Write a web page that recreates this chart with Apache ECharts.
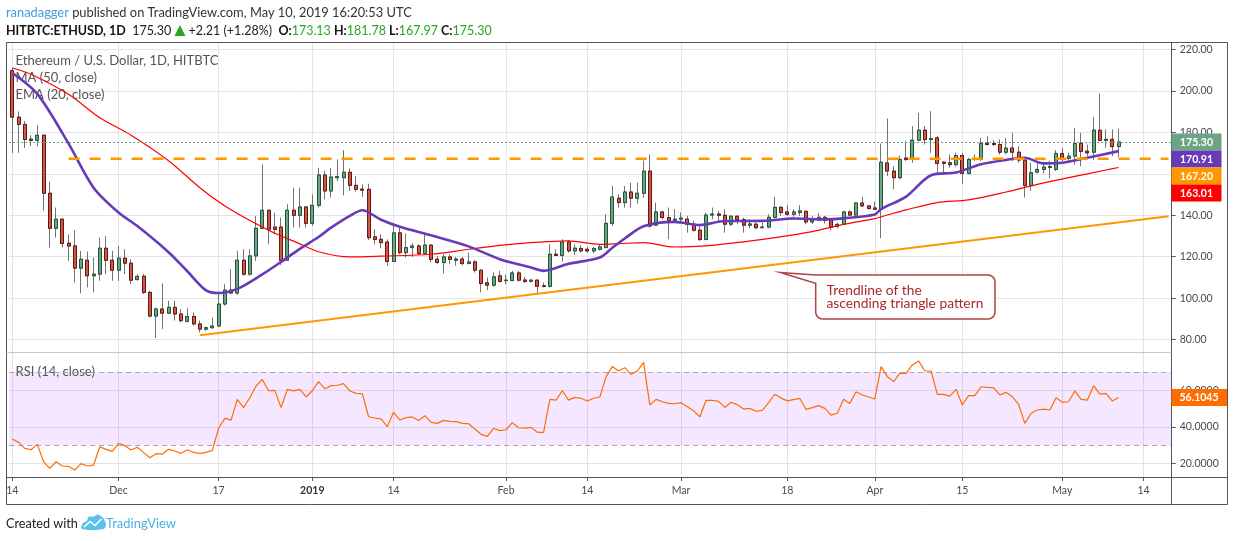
<!DOCTYPE html>
<html><head><meta charset="utf-8">
<script src="https://cdn.jsdelivr.net/npm/echarts@6/dist/echarts.min.js"></script>
<style>html,body{margin:0;padding:0;background:#fff}#c{width:1234px;height:541px}</style>
</head><body><div id="c"></div>
<script>
// ---------------- DATA ----------------
const CATEGORY_COUNT = 186; // Nov 14 2018 .. May 18 2019 (axis extends past last candle)
const tickLabels = {0:'14',17:'Dec',33:'17',48:'2019',61:'14',79:'Feb',92:'14',107:'Mar',124:'18',138:'Apr',152:'15',168:'May',181:'14'};

const opens = [209.7,187.3,183.8,176.7,176.1,178.6,150.6,133.7,138.1,126.5,
125.2,114.5,118.3,110.8,111.6,124.1,118.3,113.5,119.3,116.9,
109.0,110.6,102.8,91.4,94.8,92.8,95.6,92.4,88.8,91.2,
87.6,85.1,85.8,86.6,97.2,103.9,102.5,118.3,111.6,120.4,
133.7,142.4,134.3,134.3,118.3,142.4,140.0,144.0,136.1,144.8,
159.4,151.7,158.1,158.1,160.7,154.4,152.6,152.5,129.6,128.4,
127.1,117.7,131.5,122.0,124.4,125.2,121.5,125.6,118.8,117.2,
119.9,118.3,118.9,116.7,117.5,113.5,107.4,106.3,110.8,108.5,
108.5,112.2,108.8,108.2,108.7,106.0,105.7,121.2,120.6,127.1,
122.8,124.0,123.6,122.8,123.6,124.4,136.1,148.2,146.1,151.2,
148.2,150.6,161.3,135.2,141.6,138.9,137.6,138.1,138.1,135.7,
132.8,128.3,140.1,140.6,140.0,135.7,139.5,137.9,135.2,135.7,
134.0,134.3,139.0,143.8,141.6,140.5,141.3,141.9,136.8,137.7,
139.0,137.7,134.6,135.6,141.6,140.1,145.9,144.5,143.5,142.9,
165.2,161.3,158.1,167.6,166.9,176.2,181.0,176.5,177.3,165.6,
165.3,164.4,168.8,160.2,166.9,166.9,174.8,174.6,174.1,170.4,
172.4,170.4,166.6,154.4,160.8,162.1,163.0,162.1,169.8,167.4,
168.5,174.6,170.9,170.4,181.0,176.1,176.6,173.13];

const highs = [211.0,190.0,185.4,178.6,183.4,178.8,156.2,143.7,138.5,130.8,
132.8,122.8,122.5,119.6,129.2,130.0,122.8,125.2,123.6,118.8,
111.6,111.6,103.6,95.6,107.1,98.8,98.8,94.8,95.2,93.2,
89.2,86.3,90.7,102.8,106.8,114.0,122.8,123.6,123.6,139.7,
164.5,142.6,141.2,138.9,145.3,153.3,153.3,144.2,150.1,162.9,
161.6,162.9,166.9,171.4,162.6,158.9,154.9,155.2,133.2,130.8,
128.4,134.8,134.1,131.2,126.4,126.0,131.6,126.0,120.4,121.2,
121.2,119.9,119.9,122.0,118.3,114.0,110.0,112.4,113.2,111.3,
113.2,113.2,110.3,109.2,109.2,107.6,126.0,123.6,128.4,128.0,
126.0,125.6,124.8,124.8,126.0,140.5,154.1,150.1,154.1,155.7,
155.7,166.4,169.3,146.1,142.1,143.7,142.9,141.3,139.7,137.3,
134.8,141.3,143.7,142.1,142.9,140.1,140.1,138.9,138.1,136.5,
136.5,140.5,148.8,144.5,144.9,142.9,144.9,142.1,139.7,141.0,
139.7,138.5,136.5,142.1,142.4,146.4,148.8,144.9,146.6,174.6,
186.6,163.7,168.8,175.7,183.0,189.4,183.0,190.2,178.1,166.1,
169.3,170.1,170.1,167.7,169.3,177.3,178.1,176.2,176.5,177.3,
179.7,173.3,167.7,165.3,165.3,165.3,166.1,171.4,172.5,170.1,
182.2,179.7,174.1,187.3,198.7,181.4,181.4,181.78];

const lows = [170.0,170.1,172.5,173.3,173.3,142.1,124.4,129.2,124.4,118.0,
107.6,102.3,105.2,102.8,108.4,111.6,108.4,108.4,111.6,106.8,
108.4,102.0,90.8,80.8,85.1,92.3,89.2,88.4,88.4,86.8,
83.5,84.3,85.1,86.1,96.4,102.0,101.6,110.8,110.8,118.0,
133.2,126.0,130.8,116.1,118.0,134.1,134.1,134.1,134.8,143.7,
147.7,148.5,156.5,149.6,151.7,151.4,148.8,128.0,126.0,124.1,
115.6,117.7,121.2,119.6,119.9,120.9,120.9,117.2,116.7,111.9,
116.4,115.6,115.9,116.4,112.4,102.8,103.9,105.5,107.6,106.8,
108.4,108.1,107.6,107.6,102.0,105.2,105.2,120.4,117.7,122.0,
120.7,122.0,122.0,121.7,123.0,124.4,134.8,143.7,143.7,143.7,
145.6,148.5,134.0,134.8,138.0,128.4,136.5,136.5,131.6,132.1,
127.6,127.9,138.1,137.3,131.6,134.8,135.7,131.6,133.7,133.2,
133.7,133.7,138.5,139.7,139.7,139.2,139.7,135.7,135.7,137.3,
136.0,132.8,133.7,135.3,139.7,139.7,144.0,142.9,142.7,129.0,
158.9,152.5,157.3,166.1,165.3,175.7,174.1,170.1,159.7,159.7,
162.9,163.4,154.9,159.7,166.1,166.1,173.6,173.3,169.3,169.3,
166.1,165.3,148.5,151.7,160.2,160.2,157.8,161.3,166.1,165.3,
164.5,163.7,168.5,166.6,175.7,172.5,168.5,167.97];

const closes = [187.3,183.8,176.5,176.1,178.6,150.6,133.7,138.1,126.4,125.2,
114.5,118.8,110.8,111.6,124.1,118.3,113.5,119.3,116.9,108.7,
110.5,102.8,91.4,94.8,92.8,95.6,92.4,89.2,91.2,87.6,
85.1,85.8,86.6,97.2,103.9,102.5,118.3,111.6,120.4,133.7,
142.4,133.2,133.2,118.3,142.4,140.0,144.0,136.1,144.8,159.4,
151.7,158.4,158.6,160.7,154.4,152.5,152.1,129.2,128.3,126.8,
117.7,131.5,122.0,124.4,125.2,121.5,125.6,118.7,117.2,119.9,
118.7,118.9,116.7,117.5,113.5,107.1,106.3,110.3,108.1,108.7,
112.2,108.7,108.0,108.7,105.8,105.7,121.2,120.6,127.1,122.8,
124.1,122.8,122.8,124.0,124.8,136.1,148.8,146.1,151.2,148.2,
150.6,161.3,134.8,141.6,138.9,137.6,138.1,138.6,135.7,132.8,
128.3,140.1,140.6,140.0,135.7,139.5,137.9,135.2,135.8,134.0,
134.3,139.0,143.8,141.3,140.5,141.6,142.1,136.8,137.7,139.0,
137.6,134.3,135.6,141.6,140.1,145.9,144.5,143.2,142.9,165.6,
161.3,158.1,166.9,166.9,176.2,181.0,176.5,177.0,165.0,165.0,
164.4,168.8,160.2,166.9,167.2,174.6,174.1,174.1,170.4,172.4,
170.4,166.6,154.4,160.5,162.1,163.2,163.5,169.8,167.4,168.5,
174.6,170.8,170.1,181.0,176.1,176.6,173.09,175.30];

const ma50 = [[0,211.0],[3,208.0],[9,198.3],[14,187.0],[19,178.6],[25,166.3],[30,153.3],[35,142.6],[41,132.8],[46,126.2],
[49,122.4],[54,119.9],[59,120.3],[67,121.2],[73,123.6],[78,125.5],[83,126.8],[89,127.6],[94,126.0],[97,126.3],
[101,126.8],[106,124.7],[112,125.5],[117,127.2],[122,129.2],[128,132.1],[133,135.6],[138,138.4],[140,140.1],[143,142.6],
[148,146.1],[153,147.4],[159,151.2],[164,154.9],[169,158.1],[175,161.8],[177,163.01]];

const ema20 = [[0,208.6],[4,198.5],[9,174.5],[13,153.3],[17,141.3],[20,134.8],[25,122.2],[28,113.0],[31,103.8],[33,102.5],
[36,104.5],[40,111.5],[43,117.5],[46,123.8],[49,129.5],[51,134.0],[54,139.7],[56,142.4],[59,137.8],[62,134.4],
[67,130.3],[73,125.0],[78,118.8],[83,114.8],[85,113.2],[89,116.6],[94,119.6],[96,124.3],[98,128.8],[101,134.7],
[106,136.8],[110,135.3],[114,137.2],[120,137.3],[125,138.4],[130,138.0],[133,138.5],[138,140.4],[139,143.0],[143,149.0],
[147,159.3],[151,160.6],[155,164.6],[159,166.7],[162,167.7],[165,165.0],[168,165.3],[172,167.7],[177,170.91]];

const rsi = [33.4,31.6,28.3,27.6,30.5,21.0,17.4,21.0,18.7,18.5,
16.5,20.0,18.7,19.2,29.2,27.8,26.7,31.1,29.8,27.4,
28.9,26.0,23.2,25.4,25.2,27.8,26.9,25.6,27.6,26.1,
25.6,26.1,27.2,39.3,44.7,43.8,55.1,50.6,56.0,62.4,
66.0,59.8,60.0,50.6,60.6,59.7,60.6,56.4,59.8,64.8,
60.8,62.6,62.8,63.7,59.7,58.4,58.2,45.6,44.9,44.4,
40.2,48.0,43.8,45.1,45.5,43.6,46.2,42.5,42.0,43.6,
43.1,42.9,42.0,41.8,38.9,36.0,34.9,39.3,38.0,38.5,
42.4,39.6,39.4,39.8,37.1,37.1,55.1,54.7,59.8,54.7,
56.2,55.7,54.2,55.7,56.4,67.5,73.0,70.6,72.4,68.8,
70.6,75.3,52.0,55.1,53.8,52.9,52.7,53.3,51.1,48.9,
45.5,54.6,54.6,54.0,50.7,53.5,52.2,49.8,50.2,48.6,
49.1,53.3,57.9,55.8,54.3,55.0,55.6,49.6,50.6,51.7,
50.2,46.5,47.5,55.1,52.9,59.3,57.5,56.4,55.3,73.0,
67.5,64.8,69.3,69.3,73.9,76.1,70.6,70.6,57.8,57.8,
56.9,60.6,52.0,57.1,57.1,62.0,61.7,61.5,57.5,58.9,
56.6,52.4,42.0,47.5,49.3,49.8,49.3,56.0,53.5,53.8,
59.7,55.1,54.7,62.6,58.0,58.4,54.2,56.1045];

const resistanceLevel = 167.20;
const resistanceFrom = 9;
const trendline = [[30, 82.1], [185, 139.5]];
const rsiUpper = 70, rsiLower = 30;
const rsiGrid = [20, 40, 60];

// ---------------- SETUP ----------------
const categories = [];
(function(){ const d0 = Date.UTC(2018, 10, 14); for (let i = 0; i < CATEGORY_COUNT; i++) { categories.push(new Date(d0 + i * 864e5).toISOString().slice(0, 10)); } })();
const FONT = 'Lato, "Noto Sans", "DejaVu Sans", sans-serif';
const ctx = document.createElement('canvas').getContext('2d');
function measure(t, size, bold) { ctx.font = (bold ? 'bold ' : '') + size + 'px ' + FONT; return ctx.measureText(t).width; }
function fit(segs, target) { let w = 0; segs.forEach(s => { if (!s.tri) w += measure(s.t, 20, s.bold); }); return 20 * target / w; }
const axisFs = 12 * 33 / measure('220.00', 12, false);
const isTick = (idx) => Object.prototype.hasOwnProperty.call(tickLabels, idx);

const last = closes.length - 1;
const wickData = opens.map((o, i) => [o, closes[i], lows[i], highs[i]]);
const bodyData = opens.map((o, i) => [o, closes[i], Math.min(o, closes[i]), Math.max(o, closes[i])]);
const UP = '#6ba583', DOWN = '#d75442';

const chart = echarts.init(document.getElementById('c'), null, {renderer: 'canvas', width: 1234, height: 541});
const option = {
  animation: false,
  backgroundColor: '#ffffff',
  grid: [
    {left: 12.3, top: 42.5, width: 1156.25, height: 434.5},
    {left: 9.2, top: 49.3, width: 1162.5, height: 290.4},
    {left: 9.2, top: 353.8, width: 1162.5, height: 128.1}
  ],
  xAxis: [
    {gridIndex: 0, type: 'category', data: categories, boundaryGap: false,
      axisLine: {show: false},
      axisTick: {show: true, interval: isTick, length: 4, lineStyle: {color: '#555'}},
      axisLabel: {interval: isTick, margin: 8, color: '#4a4a4a', fontSize: axisFs, fontFamily: FONT,
        formatter: (v, i) => i === 48 ? '{b|2019}' : (tickLabels[i] || ''),
        rich: {b: {fontWeight: 'bold', color: '#333', fontSize: axisFs, fontFamily: FONT}}},
      splitLine: {show: true, interval: isTick, lineStyle: {color: '#e4e4e4'}}},
    {gridIndex: 1, type: 'category', data: categories, boundaryGap: true, show: false},
    {gridIndex: 2, type: 'category', data: categories, boundaryGap: true, show: false}
  ],
  yAxis: [
    {gridIndex: 0, type: 'value', show: false},
    {gridIndex: 1, type: 'value', position: 'right', min: 80, max: 220, interval: 20,
      axisLine: {show: false}, axisTick: {show: true, length: 4, lineStyle: {color: '#555'}},
      axisLabel: {formatter: v => v.toFixed(2), color: '#4a4a4a', fontSize: axisFs, fontFamily: FONT, margin: 8},
      splitLine: {lineStyle: {color: '#e4e4e4'}}},
    {gridIndex: 2, type: 'value', position: 'right', min: 10, max: 80, interval: 10,
      axisLine: {show: false}, axisTick: {show: true, length: 4, customValues: rsiGrid, lineStyle: {color: '#555'}},
      axisLabel: {customValues: rsiGrid, formatter: v => rsiGrid.includes(v) ? v.toFixed(4) : '', color: '#4a4a4a', fontSize: axisFs, fontFamily: FONT, margin: 8},
      splitLine: {show: false}}
  ],
  series: [
    {name: 'wicks', type: 'candlestick', xAxisIndex: 1, yAxisIndex: 1, data: wickData, barWidth: 3.6, z: 2,
      itemStyle: {color: UP, color0: DOWN, borderColor: '#737375', borderColor0: '#737375', borderWidth: 1}},
    {name: 'bodies', type: 'candlestick', xAxisIndex: 1, yAxisIndex: 1, data: bodyData, barWidth: 3.6, z: 3,
      itemStyle: {color: UP, color0: DOWN, borderColor: '#225437', borderColor0: '#5b1a13', borderWidth: 1},
      markLine: {silent: true, symbol: ['none', 'none'], label: {show: false},
        lineStyle: {color: '#5f9f7b', type: [2, 2], width: 1}, data: [{yAxis: closes[last]}]}},
    {name: 'MA (50, close)', type: 'line', xAxisIndex: 1, yAxisIndex: 1, data: ma50, showSymbol: false, smooth: 0.3, z: 4,
      lineStyle: {color: '#ff0000', width: 1.2}},
    {name: 'EMA (20, close)', type: 'line', xAxisIndex: 1, yAxisIndex: 1, data: ema20, showSymbol: false, smooth: 0.3, z: 5,
      lineStyle: {color: '#673ab7', width: 2.6}},
    {name: 'resistance', type: 'line', xAxisIndex: 1, yAxisIndex: 1, data: [[resistanceFrom, resistanceLevel], [CATEGORY_COUNT - 1, resistanceLevel]],
      showSymbol: false, z: 6, lineStyle: {color: '#ff9800', width: 2.5, type: [11, 10]}},
    {name: 'trendline', type: 'line', xAxisIndex: 1, yAxisIndex: 1, data: trendline, showSymbol: false, z: 6,
      lineStyle: {color: '#ff9800', width: 2}},
    {name: 'RSI (14, close)', type: 'line', xAxisIndex: 2, yAxisIndex: 2, data: rsi, showSymbol: false, z: 5,
      lineStyle: {color: '#ff6d00', width: 1.2},
      markArea: {silent: true, itemStyle: {color: 'rgba(153,21,255,0.10)'}, data: [[{yAxis: rsiUpper}, {yAxis: rsiLower}]]},
      markLine: {silent: true, symbol: ['none', 'none'], label: {show: false},
        data: [
          {yAxis: rsiGrid[0], lineStyle: {color: '#e2e2e2', type: 'solid', width: 1}},
          {yAxis: rsiGrid[1], lineStyle: {color: '#ddd0e8', type: 'solid', width: 1}},
          {yAxis: rsiGrid[2], lineStyle: {color: '#ddd0e8', type: 'solid', width: 1}},
          {yAxis: rsiUpper, lineStyle: {color: '#aaa3ae', type: [5, 4], width: 1}},
          {yAxis: rsiLower, lineStyle: {color: '#aaa3ae', type: [5, 4], width: 1}}
        ]}}
  ]
};
chart.setOption(option);

// ---------------- DECORATION / TEXT ----------------
const g = [];
function line(x1, y1, x2, y2, color) { g.push({type: 'line', shape: {x1, y1, x2, y2}, style: {stroke: color, lineWidth: 1}, z: 60, silent: true}); }
function text(t, x, y, size, color, bold, align, z) {
  g.push({type: 'text', x, y, z: z || 1, silent: true, style: {text: t, font: (bold ? 'bold ' : '') + size.toFixed(2) + 'px ' + FONT, fill: color, align: align || 'left', verticalAlign: 'middle'}});
}
function seq(segs, x, y, size) {
  segs.forEach(s => {
    if (s.tri) { g.push({type: 'polygon', z: 50, silent: true, shape: {points: [[x, y + 5], [x + s.w, y + 5], [x + s.w / 2, y - 6]]}, style: {fill: s.color}}); x += s.w + s.gap; return; }
    text(s.t, x, y, size, s.color, s.bold, 'left', 50);
    x += measure(s.t, size, s.bold);
  });
}
function arcPts(cx, cy, r, a0, a1) { const p = []; for (let k = 0; k <= 6; k++) { const a = a0 + (a1 - a0) * k / 6; p.push([cx + r * Math.cos(a), cy + r * Math.sin(a)]); } return p; }
// frame
line(6.5, 42.5, 1227.5, 42.5, '#555');
line(6.5, 42.5, 6.5, 504.5, '#555');
line(1227.5, 42.5, 1227.5, 504.5, '#555');
line(6.5, 504.5, 1227.5, 504.5, '#555');
line(6.5, 477.5, 1227.5, 477.5, '#555');
line(1171.5, 42.5, 1171.5, 504.5, '#555');
line(6.5, 352.5, 1171.5, 352.5, '#c8c8c8');

// header
const prev = closes[last - 1];
const chg = closes[last] - prev;
const h1 = [{t: 'ranadagger', color: '#3d9fdc'}, {t: ' published on TradingView.com, May 10, 2019 16:20:53 UTC', color: '#333'}];
seq(h1, 6, 12.5, fit(h1, 406));
const GREEN = '#25a825';
const h2 = [
  {t: 'HITBTC:ETHUSD, 1D', bold: true, color: '#131313'},
  {t: '  ' + closes[last].toFixed(2) + ' ', color: '#222'},
  {tri: true, w: 11, gap: 3, color: GREEN},
  {t: '+' + chg.toFixed(2) + ' (+' + (chg / prev * 100).toFixed(2) + '%)  ', color: '#222'},
  {t: 'O:', bold: true, color: '#131313'}, {t: opens[last].toFixed(2) + ' ', color: GREEN},
  {t: 'H:', bold: true, color: '#131313'}, {t: highs[last].toFixed(2) + ' ', color: GREEN},
  {t: 'L:', bold: true, color: '#131313'}, {t: lows[last].toFixed(2) + ' ', color: GREEN},
  {t: 'C:', bold: true, color: '#131313'}, {t: closes[last].toFixed(2), color: GREEN}
];
seq(h2, 6, 31, fit(h2, 472));

// pane legends
const legFs = fit([{t: 'Ethereum / U.S. Dollar, 1D, HITBTC'}], 203);
text('Ethereum / U.S. Dollar, 1D, HITBTC', 15.5, 61, legFs, '#555');
text('MA (50, close)', 15.5, 78, legFs, '#555');
text('EMA (20, close)', 15.5, 95, legFs, '#555');
text('RSI (14, close)', 15.5, 371.5, legFs, '#555');

// annotation callout (rounded box with a pointer)
const R = 7, bx0 = 815.7, by0 = 275, bx1 = 995, by1 = 319;
const calloutPts = [[780, 272.5], [bx0, by0]]
  .concat(arcPts(bx1 - R, by0 + R, R, -Math.PI / 2, 0))
  .concat(arcPts(bx1 - R, by1 - R, R, 0, Math.PI / 2))
  .concat(arcPts(bx0 + R, by1 - R, R, Math.PI / 2, Math.PI))
  .concat([[bx0, 283.3]]);
g.push({type: 'polygon', z: 40, silent: true, shape: {points: calloutPts}, style: {fill: '#ffffff', stroke: '#b04242', lineWidth: 1.5}});
const annFs = fit([{t: 'ascending triangle pattern'}], 157);
text('Trendline of the', 826.5, 290.5, annFs, '#a8292c', false, 'left', 41);
text('ascending triangle pattern', 826.5, 303.5, annFs, '#a8292c', false, 'left', 41);

// footer
const ftFs = fit([{t: 'Created with'}], 72);
text('Created with', 6, 523.5, ftFs, '#222');
g.push({type: 'polygon', z: 50, silent: true, shape: {smooth: 0.35, points: [[82, 529], [82.5, 523.5], [86.5, 521], [89, 516.8], [94, 516.5], [97.5, 514.5], [101.5, 516.5], [104, 519.5], [106, 524.5], [103.5, 529]]}, style: {fill: '#5cc0ec'}});
g.push({type: 'polyline', z: 51, silent: true, shape: {points: [[84, 527], [90, 521.5], [95, 525.5], [101.5, 519]]}, style: {stroke: '#ffffff', lineWidth: 1.6, fill: null}});
text('TradingView', 106, 523.5, fit([{t: 'TradingView'}], 70), '#4ab0e4');

// price labels (stacked, anchored at the last close)
const y0 = chart.convertToPixel({yAxisIndex: 1}, closes[last]);
const priceBoxes = [
  {v: closes[last], c: '#6ba583'},
  {v: ema20[ema20.length - 1][1], c: '#673ab7'},
  {v: resistanceLevel, c: '#ff9800'},
  {v: ma50[ma50.length - 1][1], c: '#ff0000'}
];
priceBoxes.forEach((b, k) => {
  const yc = y0 + k * 17;
  g.push({type: 'rect', z: 100, silent: true, shape: {x: 1171.5, y: yc - 8.5, width: 50, height: 17}, style: {fill: b.c}});
  text(b.v.toFixed(2), 1196.5, yc + 0.5, axisFs, '#ffffff', true, 'center', 101);
});
const yr = chart.convertToPixel({yAxisIndex: 2}, rsi[last]);
g.push({type: 'rect', z: 100, silent: true, shape: {x: 1171.5, y: yr - 8.5, width: 55.5, height: 17}, style: {fill: '#ff6d00'}});
text(rsi[last].toFixed(4), 1199, yr + 0.5, axisFs, '#ffffff', true, 'center', 101);

chart.setOption({graphic: {elements: g}});
</script>
</body></html>
